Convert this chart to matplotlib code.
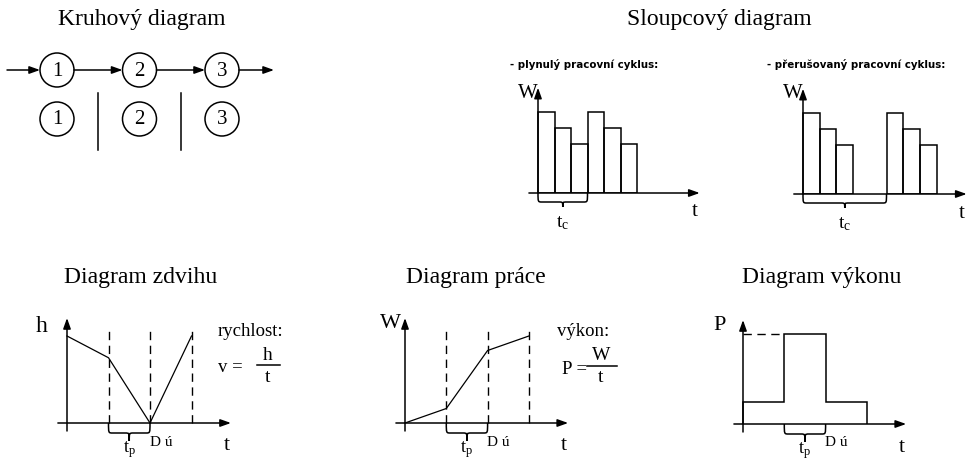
import matplotlib
matplotlib.use("Agg")
import matplotlib.pyplot as plt
from matplotlib.patches import Circle, PathPatch
from matplotlib.path import Path

W_PX, H_PX = 966, 463
plt.rcParams["font.family"] = ["Liberation Serif", "DejaVu Serif"]
plt.rcParams["mathtext.fontset"] = "custom"
plt.rcParams["mathtext.rm"] = "Liberation Serif"
plt.rcParams["mathtext.it"] = "Liberation Serif"

# ---- data ----
stages = ["1", "2", "3"]

# work of the individual operations (bar diagrams)
cont_start = [0, 1, 2, 3, 4, 5]          # plynulý cyklus
cont_work = [5, 4, 3, 5, 4, 3]
inter_start = [0, 1, 2, 5, 6, 7]         # přerušovaný cyklus
inter_work = [5, 4, 3, 5, 4, 3]
cont_cycle = (0, 3)
inter_cycle = (0, 5)

# time nodes shared by the bottom diagrams
t_nodes = [0, 1, 2, 3]
lift_h = [3.0, 2.25, 0.0, 3.0]           # diagram zdvihu
work_w = [0.0, 0.5, 2.5, 3.0]            # diagram práce
power_p = [0.5, 2.0, 0.5]                # diagram výkonu (per interval)
dashed_t = [1, 2, 3]
tp_span = (1, 2)

fig = plt.figure(figsize=(W_PX / 100, H_PX / 100), dpi=100)
fig.patch.set_facecolor("white")

# overlay in pixel units for captions and the schematic
ov = fig.add_axes([0, 0, 1, 1])
ov.set_xlim(0, W_PX)
ov.set_ylim(H_PX, 0)
ov.set_axis_off()

LW = 1.1
ARW = dict(arrowstyle="-|>,head_length=0.7,head_width=0.25", color="black",
           lw=LW, mutation_scale=9, shrinkA=0, shrinkB=0)


def make_panel(origin, scale, xext, yext):
    x0, y0 = origin
    sx, sy = scale
    left = x0 + xext[0] * sx
    right = x0 + xext[1] * sx
    top = y0 - yext[1] * sy
    bottom = y0 - yext[0] * sy
    ax = fig.add_axes([left / W_PX, 1 - bottom / H_PX,
                       (right - left) / W_PX, (bottom - top) / H_PX])
    ax.set_xlim(*xext)
    ax.set_ylim(*yext)
    ax.set_axis_off()
    ax.patch.set_alpha(0)
    return ax


def draw_axes(ax, y_from=0.0):
    x0, x1 = ax.get_xlim()
    y0, y1 = ax.get_ylim()
    ax.annotate("", xy=(x1, 0), xytext=(x0, 0), arrowprops=ARW,
                annotation_clip=False)
    ax.annotate("", xy=(0, y1), xytext=(0, y_from if y_from else y0),
                arrowprops=ARW, annotation_clip=False)


def to_px(ax, x, y):
    dx, dy = ax.transData.transform((x, y))
    return dx, H_PX - dy


def brace(ax, xa, xb, depth, tip, r=4):
    x1, y0 = to_px(ax, xa, 0)
    x2, _ = to_px(ax, xb, 0)
    xm = (x1 + x2) / 2
    yd = y0 + depth
    yt = y0 + tip
    verts = [(x1, y0), (x1, yd), (x1, yd), (x1 + r, yd),
             (xm - r, yd),
             (xm, yd), (xm, yd), (xm, yt),
             (xm, yd), (xm, yd), (xm + r, yd),
             (x2 - r, yd),
             (x2, yd), (x2, yd), (x2, y0)]
    codes = [Path.MOVETO, Path.CURVE4, Path.CURVE4, Path.CURVE4,
             Path.LINETO,
             Path.CURVE4, Path.CURVE4, Path.CURVE4,
             Path.CURVE4, Path.CURVE4, Path.CURVE4,
             Path.LINETO,
             Path.CURVE4, Path.CURVE4, Path.CURVE4]
    ov.add_patch(PathPatch(Path(verts, codes), fill=False, lw=LW,
                           edgecolor="black"))


def label(x, y, s, size, **kw):
    kw.setdefault("ha", "center")
    ov.text(x, y, s, fontsize=size, va="center", color="black", **kw)


TITLE = 17

# ---- Kruhový diagram ----
label(142, 20, "Kruhový diagram", TITLE)
cx0, step, rad = 57, 82.5, 17
row1, row2 = 70, 119
xs = [cx0 + i * step for i in range(len(stages))]
for x, s in zip(xs, stages):
    for yy in (row1, row2):
        ov.add_patch(Circle((x, yy), rad, fill=False, lw=LW, edgecolor="black"))
        label(x, yy + 1, s, 15)
ov.annotate("", xy=(xs[0] - rad, row1), xytext=(7, row1), arrowprops=ARW)
for a, b in zip(xs[:-1], xs[1:]):
    ov.annotate("", xy=(b - rad, row1), xytext=(a + rad, row1), arrowprops=ARW)
ov.annotate("", xy=(xs[-1] + rad + 35, row1), xytext=(xs[-1] + rad, row1),
            arrowprops=ARW)
for a, b in zip(xs[:-1], xs[1:]):
    xm = (a + b) / 2
    ov.plot([xm, xm], [93, 150], color="black", lw=LW)

# ---- Sloupcový diagram ----
label(719, 20, "Sloupcový diagram", TITLE)
SUB = dict(family="DejaVu Sans", weight="bold", ha="left")
label(510, 64, "- plynulý pracovní cyklus:", 7.4, **SUB)
label(767, 64, "- přerušovaný pracovní cyklus:", 7.4, **SUB)

for origin, scale, starts, vals, cyc in (
        ((538, 193), (16.5, 16.2), cont_start, cont_work, cont_cycle),
        ((803, 194), (16.7, 16.2), inter_start, inter_work, inter_cycle)):
    ax = make_panel(origin, scale, (-0.55, 9.8), (0, 6.5))
    ax.bar(starts, vals, width=1, align="edge", fill=False,
           edgecolor="black", lw=LW)
    draw_axes(ax)
    brace(ax, cyc[0], cyc[1], depth=9, tip=14)
    ox, oy = to_px(ax, 0, 0)
    label(ox - 10, oy - 100, "W", 15)
    xe, _ = to_px(ax, ax.get_xlim()[1], 0)
    label(xe - 5, oy + 19, "t", 15)
    bx = (to_px(ax, cyc[0], 0)[0] + to_px(ax, cyc[1], 0)[0]) / 2
    label(bx, oy + 30, r"$\mathrm{t_c}$", 14)

# ---- bottom row ----
bottom = [
    ("Diagram zdvihu", (67, 423), (41.5, 29), 3.62),
    ("Diagram práce", (405, 423), (41.3, 29), 3.62),
    ("Diagram výkonu", (743, 424), (41.3, 45), 2.31),
]
title_x = [141, 476, 822]
axes_b = []
for (title, origin, scale, ytop), tx in zip(bottom, title_x):
    label(tx, 277, title, TITLE)
    ax = make_panel(origin, scale, (-0.22, 3.95), (-8 / scale[1], ytop))
    axes_b.append(ax)

ax_h, ax_w, ax_p = axes_b
DASH = dict(color="black", lw=1.0, linestyle=(0, (6, 4)))

# lift diagram
for t in dashed_t:
    ax_h.plot([t, t], [0, 3.35], **DASH)
ax_h.plot(t_nodes, lift_h, color="black", lw=0.9)

# work diagram
for t in dashed_t:
    ax_w.plot([t, t], [0, 3.35], **DASH)
ax_w.plot(t_nodes, work_w, color="black", lw=0.9)

# power diagram
ax_p.stairs(power_p, t_nodes, baseline=0, color="black", lw=LW)
ax_p.plot([0, tp_span[0]], [max(power_p)] * 2, **DASH)

for ax in axes_b:
    draw_axes(ax)
    brace(ax, tp_span[0], tp_span[1], depth=10, tip=18)
    ox, oy = to_px(ax, 0, 0)
    xe, _ = to_px(ax, ax.get_xlim()[1], 0)
    label(xe - 4, oy + 23, "t", 16)
    bx = (to_px(ax, tp_span[0], 0)[0] + to_px(ax, tp_span[1], 0)[0]) / 2
    label(bx, oy + 27, r"$\mathrm{t_p}$", 13)
    dx, _ = to_px(ax, tp_span[1], 0)
    label(dx + 11, oy + 19, "D ú", 11)

ox, oy = to_px(ax_h, 0, 0)
label(ox - 25, oy - 97, "h", 17)
label(218, 332, "rychlost:", 13.5, ha="left")
label(218, 368, "v =", 13.5, ha="left")
label(268, 356, "h", 14)
ov.plot([257, 280], [365, 365], color="black", lw=LW)
label(268, 377, "t", 14)

ox, oy = to_px(ax_w, 0, 0)
label(ox - 15, oy - 100, "W", 16)
label(557, 332, "výkon:", 13.5, ha="left")
label(562, 369, "P =", 13.5, ha="left")
label(601, 356, "W", 14)
ov.plot([587, 617], [366, 366], color="black", lw=LW)
label(601, 377, "t", 14)

ox, oy = to_px(ax_p, 0, 0)
label(ox - 23, oy - 98, "P", 16)

fig.savefig("out.png", dpi=100, facecolor="white")
